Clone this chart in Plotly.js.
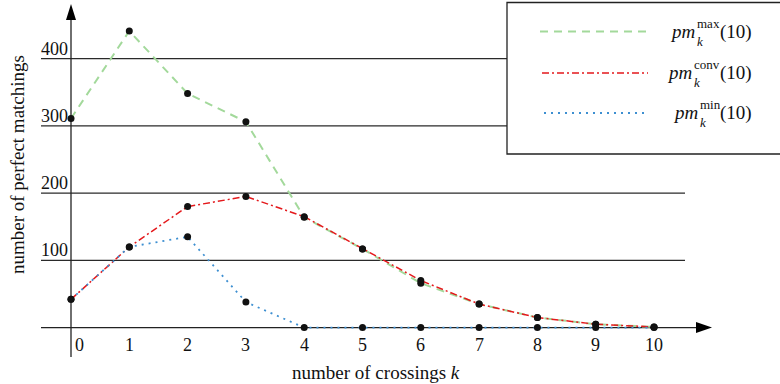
<!DOCTYPE html>
<html>
<head>
<meta charset="utf-8">
<script src="https://cdn.plot.ly/plotly-3.0.1.min.js"></script>
<style>html,body{margin:0;padding:0;background:#fff;}#chart{width:780px;height:384px;}</style>
</head>
<body>
<div id="chart"></div>
<script>
// ---- data ----
const crossings = [0,1,2,3,4,5,6,7,8,9,10];
const pmMax  = [311, 441, 348, 306, 164, 117, 66, 35, 15, 5, 1];
const pmConv = [42, 120, 180, 195, 165, 117, 70, 35, 15, 5, 1];
const pmMin  = [42, 120, 135, 38, 0, 0, 0, 0, 0, 0, 0];
const xTickVals = [0,1,2,3,4,5,6,7,8,9,10];
const xTickText = ["0","1","2","3","4","5","6","7","8","9","10"];
const yTickVals = [100,200,300,400];
const yTickText = ["100","200","300","400"];
const seriesNames = ["max","conv","min"];

// ---- styles ----
const FONT = "Liberation Serif";
const GREEN = "#a3d99b", RED = "#e4191c", BLUE = "#3d8fd1";
const DASH_MAX = "8px,6px", DASH_CONV = "7px,3px,2px,3px", DASH_MIN = "2px,5px";

const traces = [
  {x: crossings, y: pmMax,  mode: "lines", line: {color: GREEN, width: 2, dash: DASH_MAX}, hoverinfo: "skip"},
  {x: crossings, y: pmConv, mode: "lines", line: {color: RED, width: 1.5, dash: DASH_CONV}, hoverinfo: "skip"},
  {x: crossings, y: pmMin,  mode: "lines", line: {color: BLUE, width: 1.8, dash: DASH_MIN}, hoverinfo: "skip"}
];
[pmMax, pmConv, pmMin].forEach(s => traces.push({x: crossings, y: s, mode: "markers", marker: {color: "#111", size: 7}, hoverinfo: "skip"}));

const X0PX = 71, XPU = 58.3, Y0PX = 327.6, YPU = 0.6725;
const xr = [-X0PX / XPU, (780 - X0PX) / XPU];
const yr = [(Y0PX - 384) / YPU, Y0PX / YPU];
const xd = px => (px - X0PX) / XPU;
const yd = py => (Y0PX - py) / YPU;

const shapes = [];
yTickVals.forEach(v => shapes.push({type: "line", xref: "x", yref: "y", x0: xd(41), x1: xd(685), y0: v, y1: v, line: {color: "#2a2a2a", width: 1.3}, layer: "below"}));
shapes.push({type: "line", xref: "x", yref: "y", x0: xd(41), x1: xd(700), y0: 0, y1: 0, line: {color: "#222", width: 1.3}, layer: "below"});
shapes.push({type: "path", xref: "x", yref: "y", xsizemode: "pixel", ysizemode: "pixel", xanchor: xd(712), yanchor: 0, path: "M0,0 L-16,5.5 L-16,-5.5 Z", fillcolor: "#000", line: {width: 0}});
shapes.push({type: "line", xref: "x", yref: "y", x0: 0, x1: 0, y0: yd(357), y1: yd(15), line: {color: "#222", width: 1.3}, layer: "below"});
shapes.push({type: "path", xref: "x", yref: "y", xsizemode: "pixel", ysizemode: "pixel", xanchor: 0, yanchor: yd(4), path: "M0,0 L-5,-16 L5,-16 Z", fillcolor: "#000", line: {width: 0}});
shapes.push({type: "rect", xref: "paper", yref: "paper", x0: 507/780, x1: 1.02, y0: 1 - 154/384, y1: 1 - 2.5/384, fillcolor: "#fff", line: {color: "#222", width: 1.3}, layer: "above"});
const legRows = [
  {y: 31.5, x0: 540, x1: 646, color: GREEN, dash: DASH_MAX, w: 2, sx: 696},
  {y: 73, x0: 542, x1: 648, color: RED, dash: DASH_CONV, w: 1.5, sx: 693},
  {y: 113, x0: 544, x1: 648, color: BLUE, dash: DASH_MIN, w: 1.8, sx: 699}
];
legRows.forEach(r => shapes.push({type: "line", xref: "paper", yref: "paper", x0: r.x0/780, x1: r.x1/780, y0: 1 - r.y/384, y1: 1 - r.y/384, line: {color: r.color, width: r.w, dash: r.dash}, layer: "above"}));

const annotations = [];
const tf = {family: FONT, size: 18, color: "#111"};
const titleF = {family: FONT, size: 19, color: "#111"};
const lf = {family: FONT, size: 19, color: "#111"};
const sf = {family: FONT, size: 13, color: "#111"};
const kf = {family: FONT, size: 13, color: "#111"};
yTickVals.forEach((v, i) => annotations.push({xref: "x", yref: "y", x: 0, y: v, text: yTickText[i], showarrow: false, xanchor: "right", yanchor: "bottom", xshift: -1, yshift: -2, font: tf}));
xTickVals.forEach((v, i) => annotations.push({xref: "x", yref: "y", x: v, y: 0, text: xTickText[i], showarrow: false, xanchor: "center", yanchor: "top", xshift: i === 0 ? 8 : 0, yshift: -5, font: tf}));
annotations.push({xref: "paper", yref: "paper", x: 376/780, y: 1 - 372/384, text: "number of crossings <i>k</i>", showarrow: false, xanchor: "center", yanchor: "middle", font: titleF});
annotations.push({xref: "paper", yref: "paper", x: 17/780, y: 1 - 165/384, text: "number of perfect matchings", textangle: -90, showarrow: false, xanchor: "center", yanchor: "middle", font: titleF});
legRows.forEach((r, i) => {
  const yp = 1 - r.y/384;
  annotations.push({xref: "paper", yref: "paper", x: 753/780, y: yp, text: "(10)", showarrow: false, xanchor: "right", yanchor: "middle", borderpad: 0, font: lf});
  annotations.push({xref: "paper", yref: "paper", x: r.sx/780, y: yp, text: "<i>pm</i>", showarrow: false, xanchor: "right", yanchor: "middle", borderpad: 0, font: lf});
  annotations.push({xref: "paper", yref: "paper", x: r.sx/780, y: yp, text: seriesNames[i], showarrow: false, xanchor: "left", yanchor: "bottom", yshift: 0, borderpad: 0, font: sf});
  annotations.push({xref: "paper", yref: "paper", x: r.sx/780, y: yp, text: "<i>k</i>", showarrow: false, xanchor: "left", yanchor: "top", yshift: -1, borderpad: 0, font: kf});
});

const layout = {
  width: 780, height: 384,
  margin: {l: 0, r: 0, t: 0, b: 0},
  paper_bgcolor: "#fff", plot_bgcolor: "#fff",
  showlegend: false,
  font: {family: FONT},
  xaxis: {range: xr, visible: false, fixedrange: true},
  yaxis: {range: yr, visible: false, fixedrange: true},
  shapes: shapes,
  annotations: annotations
};
Plotly.newPlot("chart", traces, layout, {displayModeBar: false, staticPlot: true});
</script>
</body>
</html>
